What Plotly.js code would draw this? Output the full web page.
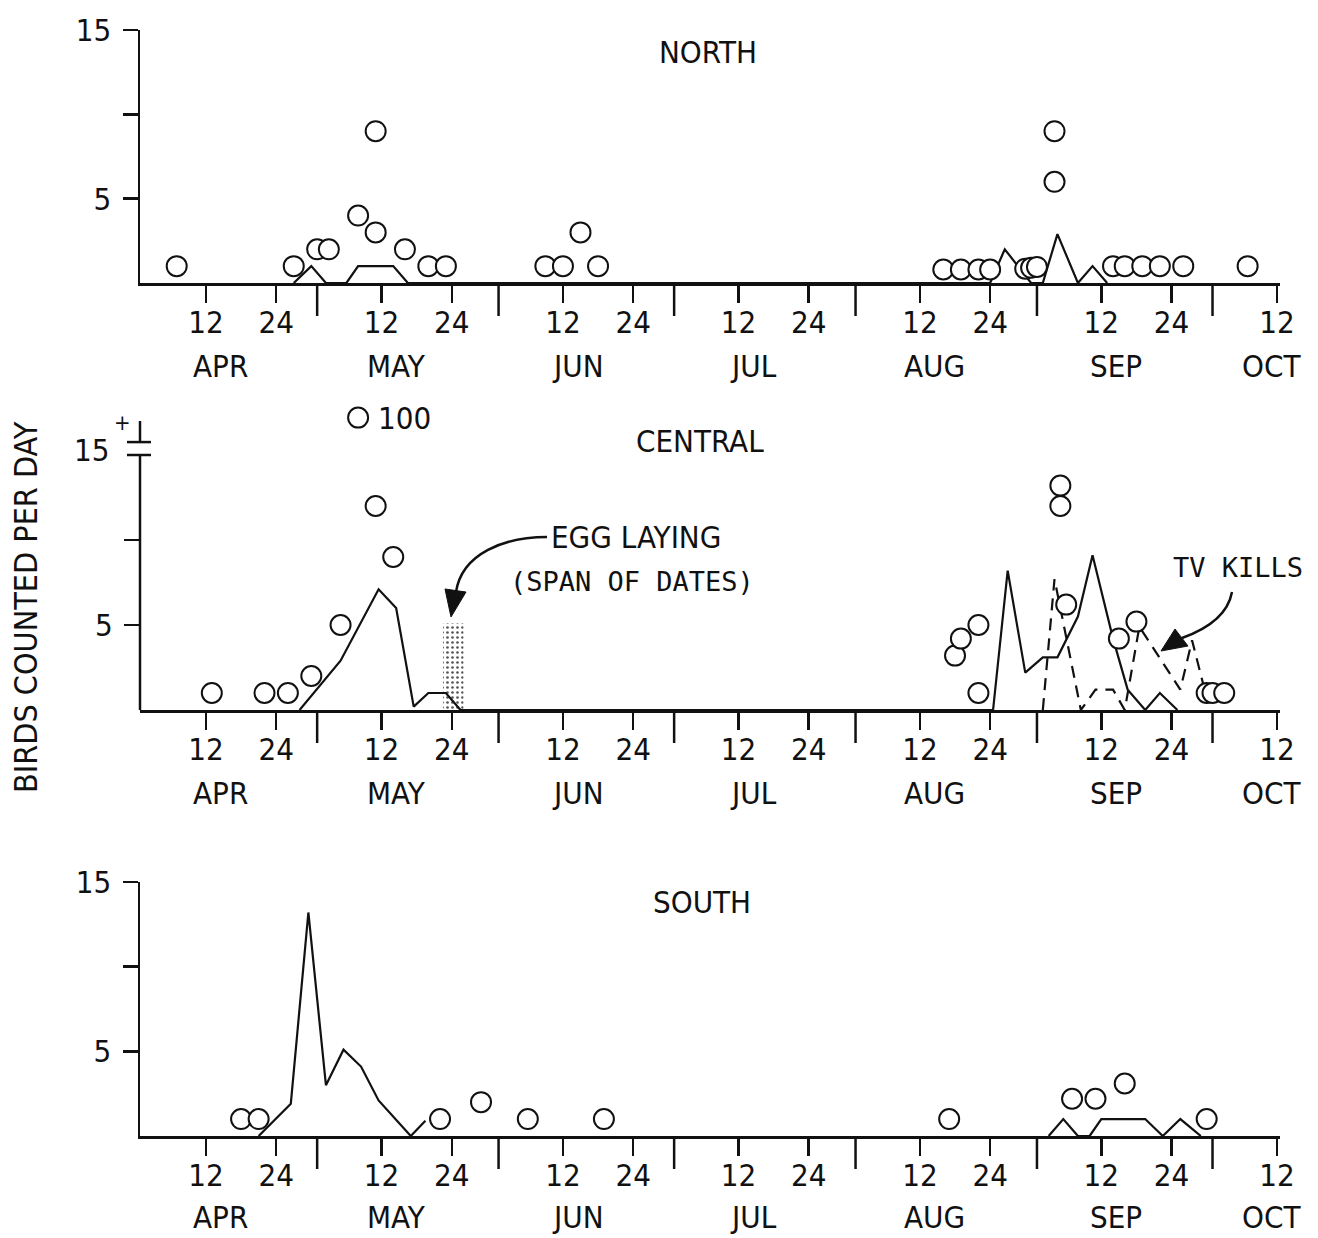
<!DOCTYPE html>
<html>
<head>
<meta charset="utf-8">
<script src="https://cdn.plot.ly/plotly-3.0.1.min.js"></script>
<style>html,body{margin:0;padding:0;background:#fff;}</style>
</head>
<body>
<div id="chart" style="width:1318px;height:1238px;"></div>
<script>
// ---------------- DATA ----------------
const YEAR = '2001';
// dates written 'MM-DD' or 'MM-DD HH'
const monthNums   = ['04','05','06','07','08','09','10'];
const monthNames  = ['APR','MAY','JUN','JUL','AUG','SEP','OCT'];
const tickDaysOfMonth = ['12','24'];

// NORTH
const northCountDates = ['04-07','04-27','05-01','05-03','05-08','05-11','05-11','05-16','05-20','05-23',
  '06-09','06-12','06-15','06-18',
  '08-16','08-19','08-22','08-24','08-30','08-31','09-01','09-04','09-04',
  '09-14','09-16','09-19','09-22','09-26','10-07'];
const northCounts = [1,1,2,2,4,9,3,2,1,1,
  1,1,3,1,
  0.8,0.8,0.8,0.8,0.85,0.9,0.95,9,6,
  1,1,1,1,1,1];
const northLineDates = ['04-27','04-30','05-02 12','05-06','05-08','05-14','05-16 12',
  '08-24','08-26 12','08-31','09-02','09-04 12','09-08','09-10 12','09-13'];
const northLineValues = [0,1,0,0,1,1,0,
  0,2,0,0,2.9,0,1,0];

// CENTRAL
const centralCountDates = ['04-13','04-22','04-26','04-30','05-05','05-11','05-14','05-08',
  '08-18','08-19','08-22','08-22','09-05','09-05','09-06','09-15','09-18','09-30','10-01','10-03'];
const centralCounts = [1,1,1,2,5,12,9,100,
  3.2,4.2,5,1,13.2,12,6.2,4.2,5.2,1,1,1];
const centralLineDates = ['04-28','05-05','05-11 12','05-14 12','05-17 12','05-20','05-23','05-25 12',
  '08-24 12','08-27','08-30','09-02','09-04 12','09-08','09-10 12','09-14','09-16 12','09-19 12','09-22','09-25'];
const centralLineValues = [0,2.9,7.1,6,0.2,1,1,0,
  0,8.2,2.2,3.1,3.1,5.5,9.1,4.2,1.2,0,1,0];
const tvKillDates = ['09-02','09-04','09-08 12','09-11','09-14','09-16','09-18 12','09-25 12','09-27 12','09-29 12'];
const tvKills = [0,7.7,0,1.2,1.2,0,4.9,1.2,4.1,1.4];
const eggLayingSpan = ['05-22 12','05-26'];

// SOUTH
const southCountDates = ['04-18','04-21','05-22','05-29','06-06','06-19','08-17','09-07','09-11','09-16','09-30'];
const southCounts = [1,1,1,2,1,1,1,2.2,2.2,3.1,1];
const southLineDates = ['04-21','04-26 12','04-29 12','05-02 12','05-05 12','05-08 12','05-11 12','05-17','05-19 12','05-20',
  '09-03','09-05 12','09-08','09-10','09-12','09-19 12','09-22 12','09-25 12','09-29'];
const southLineValues = [0,1.9,13.2,3,5.1,4.1,2.1,0,0.9,null,
  0,1,0,0,1,1,0,1,0];

// ---------------- HELPERS / STYLE ----------------
const W = 1318, H = 1238;
const fx = v => v / W, fy = v => 1 - v / H;
const D = s => YEAR + '-' + (s.length > 5 ? s + ':00' : s);
const ms = s => Date.parse(D(s).replace(' ', 'T') + (s.length > 5 ? '' : 'T00:00') + 'Z');
const INK = '#111';
const FONT = '"Liberation Sans Narrow", "DejaVu Sans Condensed", "Liberation Sans", sans-serif';
const MONO = '"DejaVu Sans Mono", "Liberation Mono", monospace';
const FS = 31;
const xRange = [D('03-31 17:30'), D('10-12 12:45')];
const BREAK_Y = 17.2; // where off-scale counts are drawn in CENTRAL

const tickvals = [], ticktext = [];
monthNums.forEach(m => {
  tickDaysOfMonth.forEach(d => {
    if (m === '10' && d === '24') return;
    tickvals.push(D(m + '-' + d)); ticktext.push(d);
  });
});
const monthStarts = monthNums.slice(1).map(m => m + '-01');
const monthLabelPos = monthNums.map(m => m === '10' ? '10-11' : m + '-14 12');

const panels = [
  {name:'NORTH',   xa:'x',  ya:'y',  axisY:283,  topY:30,  yMax:15,    titleX:708, titleY:52,  monthY:366},
  {name:'CENTRAL', xa:'x2', ya:'y2', axisY:710,  topY:410, yMax:300/17, titleX:700, titleY:441, monthY:793},
  {name:'SOUTH',   xa:'x3', ya:'y3', axisY:1136, topY:882, yMax:15,    titleX:702, titleY:902, monthY:1217}
];

const layout = {
  width: W, height: H,
  margin: {l:0, r:0, t:0, b:0},
  paper_bgcolor: 'white', plot_bgcolor: 'white',
  showlegend: false,
  font: {family: FONT, color: INK, size: FS},
  shapes: [], annotations: []
};

panels.forEach((p, i) => {
  const sfx = i === 0 ? '' : String(i + 1);
  layout['xaxis' + sfx] = {
    type: 'date', domain: [fx(140), fx(1280)], range: xRange, anchor: p.ya,
    tickmode: 'array', tickvals: tickvals, ticktext: ticktext,
    ticks: 'outside', ticklen: 17, tickwidth: 2.5, tickcolor: INK,
    showline: true, linewidth: 2.5, linecolor: INK,
    showgrid: false, zeroline: false, fixedrange: true,
    tickfont: {family: FONT, size: FS, color: INK}, ticklabelstandoff: -7
  };
  const central = p.name === 'CENTRAL';
  layout['yaxis' + sfx] = {
    domain: [fy(p.axisY), fy(p.topY)], range: [0, p.yMax], anchor: p.xa,
    tickmode: 'array',
    tickvals: central ? [5, 10] : [5, 10, 15],
    ticktext: central ? ['5', ''] : ['5', '', '15'],
    ticks: 'outside', ticklen: 15, tickwidth: 2.5, tickcolor: INK,
    showline: !central, linewidth: 2.5, linecolor: INK,
    showgrid: false, zeroline: false, fixedrange: true,
    tickfont: {family: FONT, size: FS, color: INK}, ticklabelstandoff: 5
  };
  // month-boundary long ticks
  monthStarts.forEach(m1 => {
    layout.shapes.push({type:'line', xref:p.xa, yref:'paper', x0:D(m1), x1:D(m1),
      y0:fy(p.axisY), y1:fy(p.axisY + 33), line:{color:INK, width:2.5}});
  });
  // month names
  monthNames.forEach((mn, k) => {
    layout.annotations.push({xref:p.xa, yref:'paper', x:D(monthLabelPos[k]), y:fy(p.monthY),
      text:mn, showarrow:false, xanchor:'center', yanchor:'middle',
      font:{family:FONT, size:FS, color:INK}});
  });
  // panel title
  layout.annotations.push({xref:'paper', yref:'paper', x:fx(p.titleX), y:fy(p.titleY),
    text:p.name, showarrow:false, xanchor:'center', yanchor:'middle',
    font:{family:FONT, size:FS, color:INK}});
});

// CENTRAL y-axis with break
layout.shapes.push(
  {type:'line', xref:'x2 domain', yref:'y2', x0:0, x1:0, y0:0, y1:15, line:{color:INK, width:2.5}},
  {type:'line', xref:'paper', yref:'y2', x0:fx(127), x1:fx(151), y0:15, y1:15, line:{color:INK, width:2.5}},
  {type:'line', xref:'paper', yref:'y2', x0:fx(127), x1:fx(151), y0:15.76, y1:15.76, line:{color:INK, width:2.5}},
  {type:'line', xref:'x2 domain', yref:'y2', x0:0, x1:0, y0:15.76, y1:17.0, line:{color:INK, width:2.5}}
);
layout.annotations.push(
  {xref:'paper', yref:'paper', x:fx(111), y:fy(450), text:'15', showarrow:false, xanchor:'right', yanchor:'middle',
   font:{family:FONT, size:FS, color:INK}},
  {xref:'paper', yref:'paper', x:fx(123), y:fy(423), text:'+', showarrow:false, xanchor:'center', yanchor:'middle',
   font:{family:FONT, size:22, color:INK}}
);

// Y axis title
layout.annotations.push({xref:'paper', yref:'paper', x:fx(26), y:fy(607), text:'BIRDS COUNTED PER DAY',
  textangle:-90, showarrow:false, xanchor:'center', yanchor:'middle', font:{family:FONT, size:32, color:INK}});

// Egg laying label + curved arrows
const P = (x, y) => fx(x) + ' ' + fy(y);
layout.annotations.push(
  {xref:'paper', yref:'paper', x:fx(549), y:fy(537), text:'EGG LAYING', showarrow:false, xanchor:'left', yanchor:'middle',
   font:{family:FONT, size:FS, color:INK}},
  {xref:'paper', yref:'paper', x:fx(632), y:fy(581), text:'(SPAN OF DATES)', showarrow:false, xanchor:'center', yanchor:'middle',
   font:{family:MONO, size:27, color:INK}},
  {xref:'paper', yref:'paper', x:fx(1238), y:fy(568), text:'TV KILLS', showarrow:false, xanchor:'center', yanchor:'middle',
   font:{family:MONO, size:27, color:INK}}
);
layout.shapes.push(
  {type:'path', xref:'paper', yref:'paper', path:'M ' + P(547,537) + ' C ' + P(505,537) + ' ' + P(462,553) + ' ' + P(456,592),
   line:{color:INK, width:2.5}},
  {type:'path', xref:'paper', yref:'paper', path:'M ' + P(451,617) + ' L ' + P(445,589) + ' L ' + P(466,592) + ' Z',
   fillcolor:INK, line:{color:INK, width:1}},
  {type:'path', xref:'paper', yref:'paper', path:'M ' + P(1232,592) + ' C ' + P(1228,614) + ' ' + P(1210,628) + ' ' + P(1182,638),
   line:{color:INK, width:2.5}},
  {type:'path', xref:'paper', yref:'paper', path:'M ' + P(1161,651) + ' L ' + P(1175,629) + ' L ' + P(1188,646) + ' Z',
   fillcolor:INK, line:{color:INK, width:1}}
);

// ---------------- TRACES ----------------
const circleMarker = {symbol:'circle', size:20, color:'white', line:{color:INK, width:2}};
const lineStyle = {color:INK, width:2.2};
const traces = [];

// egg-laying stippled span
const eggStart = ms(eggLayingSpan[0]), eggEnd = ms(eggLayingSpan[1]);
traces.push({type:'bar', xaxis:'x2', yaxis:'y2', x:[(eggStart + eggEnd) / 2], y:[5.1], base:0,
  width:[eggEnd - eggStart], hoverinfo:'skip',
  marker:{color:'white', line:{width:0},
    pattern:{shape:'.', fgcolor:'#555', bgcolor:'white', size:5, solidity:0.22}}});

const series = [
  {xa:'x',  ya:'y',  ld:northLineDates,   lv:northLineValues,   cd:northCountDates,   cv:northCounts},
  {xa:'x2', ya:'y2', ld:centralLineDates, lv:centralLineValues, cd:centralCountDates, cv:centralCounts},
  {xa:'x3', ya:'y3', ld:southLineDates,   lv:southLineValues,   cd:southCountDates,   cv:southCounts}
];
series.forEach(s => {
  traces.push({type:'scatter', mode:'lines', xaxis:s.xa, yaxis:s.ya, x:s.ld.map(D), y:s.lv,
    line:lineStyle, connectgaps:false, cliponaxis:false, hoverinfo:'skip'});
});
traces.push({type:'scatter', mode:'lines', xaxis:'x2', yaxis:'y2', x:tvKillDates.map(D), y:tvKills,
  line:{color:INK, width:2.2, dash:'12px,8px'}, cliponaxis:false, hoverinfo:'skip'});
series.forEach(s => {
  traces.push({type:'scatter', mode:'markers', xaxis:s.xa, yaxis:s.ya, x:s.cd.map(D),
    y:s.cv.map(v => v > 15 ? BREAK_Y : v), marker:circleMarker, cliponaxis:false});
});
// label off-scale central counts
centralCounts.forEach((v, i) => {
  if (v > 15) layout.annotations.push({xref:'x2', yref:'y2', x:D(centralCountDates[i]), y:BREAK_Y,
    text:String(v), showarrow:false, xanchor:'left', yanchor:'middle', xshift:18,
    font:{family:FONT, size:FS, color:INK}});
});

Plotly.newPlot('chart', traces, layout, {displayModeBar:false, staticPlot:true});
</script>
</body>
</html>
